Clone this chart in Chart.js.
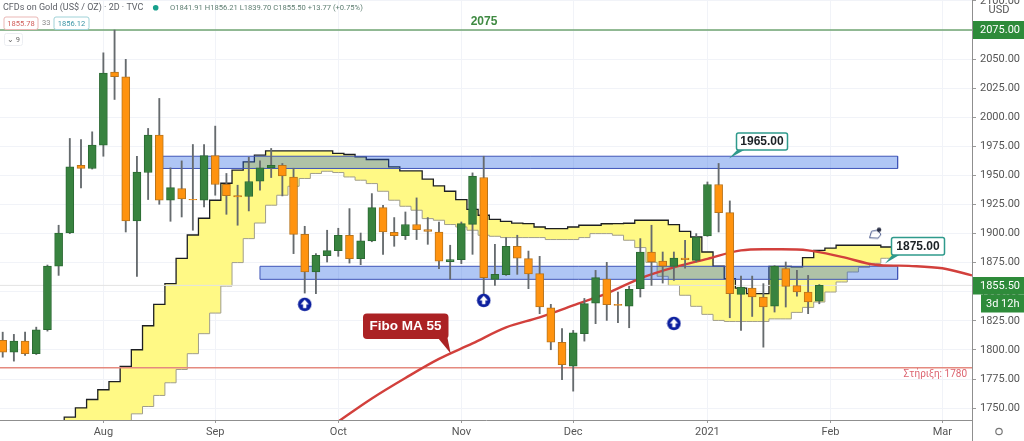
<!DOCTYPE html>
<html>
<head>
<meta charset="utf-8">
<title>CFDs on Gold</title>
<script src="https://cdn.jsdelivr.net/npm/chart.js@4"></script>
<style>
  html, body { margin: 0; padding: 0; background: #fff; overflow: hidden; }
  #wrap { position: relative; width: 1024px; height: 441px; }
</style>
</head>
<body>
<div id="wrap"><canvas id="goldChart" width="1024" height="441"></canvas></div>
<script>
// candles, one row per 2D bar
const opens = [1808.2,1798.1,1807.6,1796.8,1817.4,1872.1,1900.5,1958.8,1956,1976,2038.8,2034.8,1911,1952.5,1984.6,1928.7,1938.8,1929.5,1928.7,1967.1,1942.4,1932.7,1931.9,1945,1956.5,1958.8,1948.7,1899.4,1867,1881.1,1885.4,1898.6,1878.5,1893.7,1922.4,1901.1,1898.3,1907.8,1903.5,1901.4,1875.9,1877.6,1908,1948.2,1860.7,1864.7,1889.1,1878.5,1865.6,1836.3,1806.5,1786.1,1814,1840.3,1861,1839.2,1837.7,1852.7,1884.2,1876.4,1871.9,1879,1877,1898,1942.2,1918.1,1847.8,1853.2,1845.5,1837.7,1869.9,1855.3,1849.8,1841.91];
const highs = [1815.3,1813.4,1815.3,1819.6,1873,1907.2,1981.8,1980.9,1987.5,2055.4,2075,2049.8,1966.5,1990.4,2016.2,1956.5,1962.5,1976.6,1976.6,1992.4,1951.7,1941.6,1965.7,1962.5,1973.2,1960.3,1956.2,1906.3,1882.8,1902.9,1904.6,1921.5,1900.5,1934.4,1924.4,1913.8,1918.6,1930.7,1913.8,1910,1890,1910,1952.2,1966.5,1890.8,1896.6,1898.6,1885,1880.5,1839.2,1818.3,1816.8,1844.3,1868.4,1875.3,1849.8,1854.7,1895.7,1907.2,1884.2,1884.2,1894.3,1900,1944.4,1960.3,1928.1,1863.5,1863.5,1857,1872.5,1875.6,1868.4,1864.1,1856.21];
const lows = [1793.8,1790.4,1795.3,1796.1,1816.2,1864.1,1900,1939.3,1955.5,1966.5,2015.3,1901.4,1863.3,1929.3,1925.2,1910.6,1914.3,1902.9,1922.9,1933,1916.6,1907.2,1919.5,1937.3,1948.2,1932.4,1882.8,1848.9,1848.4,1875.6,1880.5,1874.7,1873.3,1893,1882.2,1889.1,1894.9,1894.9,1890.8,1869.9,1860.7,1874.2,1882.2,1848.4,1855.5,1864.1,1865,1852.7,1831.2,1800.2,1774.4,1764.6,1807.6,1822.6,1825.4,1823.4,1819.1,1845.5,1855.5,1857.5,1859.8,1870.2,1875.6,1897.7,1901.4,1827.7,1816.8,1828.8,1802.4,1832.6,1836.9,1846.3,1831.2,1839.7];
const closes = [1798.1,1807.6,1796.8,1817.4,1872.1,1900.5,1957.3,1956,1976,2038,2034.8,1911,1952.8,1984.6,1928.7,1939.6,1929.8,1929,1967.1,1942.2,1932.7,1931.5,1944.8,1956.5,1958.8,1949.6,1899.4,1867,1881.3,1885.4,1898.6,1878.5,1893.7,1922.4,1901.4,1898.3,1907.8,1903.5,1901.8,1876.4,1877.6,1908.6,1949.3,1862.2,1865,1889.1,1879,1865.3,1836.9,1806.7,1787.3,1814.8,1839.8,1862.2,1838.9,1838.3,1852.1,1884.2,1875.6,1872.1,1879,1877.6,1897.1,1942.2,1918.1,1848.4,1854.1,1845.5,1836.9,1871.9,1854.7,1849.8,1841.2,1855.5];

// cloud edges, one value per bar from bar 5 on
const cloudFirstBar = 5;
const cloudUpper = [1730.8,1742.2,1750.3,1757.4,1765.8,1772.7,1785.8,1800.2,1820.8,1839.2,1857,1878.8,1898.8,1913.2,1928.7,1943.3,1954.5,1961.6,1967.4,1971.1,1971.1,1971.1,1971.1,1971.1,1971.1,1968.9,1968,1965.9,1963.7,1963.7,1957.3,1953.9,1953.9,1946.8,1941,1936.4,1929.3,1920.9,1915.8,1912.3,1910.6,1909.1,1908.6,1905.7,1904.3,1904.3,1905.7,1907.2,1907.2,1908.5,1908.6,1908.9,1911.5,1911.5,1911.5,1907.8,1902,1897.1,1884.2,1872.1,1861.3,1853.2,1848.4,1848.4,1871.9,1871.9,1871.5,1879.4,1885.6,1887.6,1890,1890,1890,1890,1888.5];
const cloudLower = [1720,1720,1720,1720,1720,1720,1720,1745.1,1751.4,1760.9,1771.8,1783.2,1796.8,1814,1831.7,1854.9,1875.1,1895.7,1909.1,1924.4,1933,1940.7,1947.4,1951.7,1953.6,1952.5,1948.7,1945.9,1943,1936.4,1928.7,1923.5,1920.1,1912.9,1911.5,1907.8,1905.7,1902.9,1898.6,1897.7,1896.6,1896.6,1896.6,1896.6,1894.9,1894.9,1894.9,1896.6,1900,1900,1898.6,1894.3,1888,1875.3,1863.3,1855.5,1847,1837.5,1830.6,1825.4,1824.5,1824.5,1824.5,1824.5,1826.7,1826.7,1832.3,1836.6,1841.2,1849.8,1858.4,1867,1871,1874.5,1878.8];
const cloudLastBar = 79.6;

// Fibo MA 55
const maBars = [30,33,36,39,42,45,48,51,54,57,60,63,66,69,72,75,78,81,84,86.65];
const maValues = [1738.5,1758.3,1775.9,1792.3,1805.6,1819.4,1828,1838.3,1848.6,1861.6,1871,1878.3,1885.6,1886.5,1885.6,1880,1873.2,1872.3,1870.2,1864.1];

// blue zones
const zoneStarts = [14.3, 23];
const zoneEnds = [80, 80];
const zoneTops = [1966.5, 1871.9];
const zoneBottoms = [1956, 1860.7];

// horizontal levels
const resistanceLevel = 2075;
const supportLevel = 1784.7;
const lastPrice = 1855.5;

// up arrows and the little cursor icon
const arrowBars = [27, 43, 60];
const arrowValues = [1839.2, 1842.6, 1822.8];
const iconBar = [78.07];
const iconValue = [1900.3];

// axes
const monthBars = [9, 19, 30, 41, 51, 63, 74, 84];
const monthLabels = ['Aug', 'Sep', 'Oct', 'Nov', 'Dec', '2021', 'Feb', 'Mar'];
const priceTicks = [1750,1775,1800,1825,1850,1875,1900,1925,1950,1975,2000,2025,2050,2075,2100];
const xMin = -0.241, xMax = 86.65;
const yMin = 1739.8, yMax = 2100.8;

const GREEN = '#38833f', GREEN_EDGE = '#2b6a33';
const ORANGE = '#ff930f', ORANGE_EDGE = '#b9741c';
const WICK = '#666b6e';

function arrowSprite() {
  const c = document.createElement('canvas');
  c.width = 15; c.height = 15;
  const g = c.getContext('2d');
  g.fillStyle = '#0c1f9e';
  g.beginPath(); g.arc(7.5, 7.5, 6.8, 0, Math.PI * 2); g.fill();
  g.fillStyle = '#fff';
  g.beginPath(); g.moveTo(7.5, 2.8); g.lineTo(11.6, 7.4); g.lineTo(9.2, 7.4); g.lineTo(9.2, 11.2);
  g.lineTo(5.8, 11.2); g.lineTo(5.8, 7.4); g.lineTo(3.4, 7.4); g.closePath(); g.fill();
  return c;
}

function iconSprite() {
  const c = document.createElement('canvas');
  c.width = 16; c.height = 14;
  const g = c.getContext('2d');
  g.strokeStyle = '#4a5a8c'; g.lineWidth = 1;
  g.beginPath(); g.moveTo(1.5, 11.5); g.lineTo(3.5, 5); g.lineTo(9, 4); g.lineTo(13, 8); g.lineTo(10, 12); g.closePath(); g.stroke();
  g.fillStyle = '#2a2f45';
  g.beginPath(); g.arc(11, 3.5, 2.2, 0, Math.PI * 2); g.fill();
  return c;
}

function barPoints(values, first) {
  return values.map((v, i) => ({ x: i + first, y: v }));
}

function levelLine(value, color, width, dash, order) {
  return {
    type: 'line', data: [{ x: xMin, y: value }, { x: xMax, y: value }],
    borderColor: color, borderWidth: width, borderDash: dash, pointRadius: 0, fill: false, order: order
  };
}

const cloudUpperPts = barPoints(cloudUpper, cloudFirstBar);
const cloudLowerPts = barPoints(cloudLower, cloudFirstBar);
cloudUpperPts.push({ x: cloudLastBar, y: cloudUpper[cloudUpper.length - 1] });
cloudLowerPts.push({ x: cloudLastBar, y: cloudLower[cloudLower.length - 1] });

const datasets = [
  { type: 'line', data: cloudUpperPts, stepped: 'middle', borderColor: '#1d1f22', borderWidth: 1.3, pointRadius: 0,
    fill: { target: '+1' }, backgroundColor: '#fff985', order: 60 },
  { type: 'line', data: cloudLowerPts, stepped: 'middle', borderColor: '#a09e8c', borderWidth: 1, pointRadius: 0, fill: false, order: 59 }
];

zoneStarts.forEach((start, i) => {
  const end = zoneEnds[i], top = zoneTops[i], bottom = zoneBottoms[i];
  datasets.push(
    { type: 'line', data: [{ x: start, y: top }, { x: end, y: top }], borderWidth: 0, pointRadius: 0,
      fill: { target: '+1' }, backgroundColor: 'rgba(33,97,228,0.36)', order: 50 - i * 3 },
    { type: 'line', data: [{ x: start, y: bottom }, { x: end, y: bottom }], borderWidth: 0, pointRadius: 0, fill: false, order: 49 - i * 3 },
    { type: 'line', data: [{ x: start, y: top }, { x: end, y: top }, { x: end, y: bottom }, { x: start, y: bottom }, { x: start, y: top }],
      borderColor: '#3f55b8', borderWidth: 1, pointRadius: 0, fill: false, order: 48 - i * 3 }
  );
});

datasets.push(
  levelLine(lastPrice, '#e3e3e3', 1, [], 40),
  levelLine(resistanceLevel, '#6fa572', 1.6, [], 39),
  levelLine(supportLevel, '#e58a7f', 1.6, [], 38),
  { type: 'line', data: maBars.map((b, i) => ({ x: b, y: maValues[i] })), borderColor: '#d2403c', borderWidth: 2.4,
    pointRadius: 0, tension: 0.35, fill: false, order: 30 },
  { type: 'bar', data: opens.map((o, i) => ({ x: i, y: [lows[i], highs[i]] })), backgroundColor: WICK,
    barThickness: 1.2, borderWidth: 0, grouped: false, order: 20 },
  { type: 'bar', data: opens.map((o, i) => ({ x: i, y: [o, closes[i]] })),
    backgroundColor: opens.map((o, i) => closes[i] > o ? GREEN : ORANGE),
    borderColor: opens.map((o, i) => closes[i] > o ? GREEN_EDGE : ORANGE_EDGE),
    barThickness: 8, borderWidth: 1, borderSkipped: false, grouped: false, order: 10 },
  // sprite points, the radius only has to be above zero for the image to draw
  { type: 'line', data: arrowBars.map((b, i) => ({ x: b, y: arrowValues[i] })), showLine: false,
    pointStyle: arrowSprite(), pointRadius: 0.5, pointBorderWidth: 0, fill: false, order: 5 },
  { type: 'line', data: iconBar.map((b, i) => ({ x: b, y: iconValue[i] })), showLine: false,
    pointStyle: iconSprite(), pointRadius: 0.5, pointBorderWidth: 0, fill: false, order: 4 }
);

function roundBox(ctx, x, y, w, h, r) {
  ctx.beginPath();
  ctx.roundRect(x, y, w, h, r);
}

function callout(ctx, text, x, y, w, h, baseX, tipX, tipY) {
  ctx.fillStyle = '#2f9a8c';
  ctx.beginPath(); ctx.moveTo(baseX - 3, y + h - 1); ctx.lineTo(baseX + 5, y + h - 1); ctx.lineTo(tipX, tipY); ctx.closePath(); ctx.fill();
  ctx.fillStyle = '#fff'; ctx.strokeStyle = '#2f9a8c'; ctx.lineWidth = 1.5;
  roundBox(ctx, x, y, w, h, 2); ctx.fill(); ctx.stroke();
  ctx.fillStyle = '#1c2226'; ctx.font = 'bold 12px "Liberation Sans"';
  ctx.textAlign = 'center'; ctx.textBaseline = 'middle';
  ctx.fillText(text, x + w / 2, y + h / 2 + 0.5);
}

function priceTag(ctx, text, x, y, w, h, textX, color) {
  ctx.fillStyle = color;
  ctx.fillRect(x, y, w, h);
  ctx.fillStyle = '#fff'; ctx.font = '11px Roboto';
  ctx.textAlign = 'left'; ctx.textBaseline = 'middle';
  ctx.fillText(text, textX, y + h / 2 + 0.5);
}

function chipText(ctx, text, x, y, color) {
  ctx.fillStyle = color;
  ctx.fillText(text, x, y);
}

function chip(ctx, text, x, y, w, h, edge, color) {
  ctx.fillStyle = '#fff'; ctx.strokeStyle = edge; ctx.lineWidth = 1;
  roundBox(ctx, x + 0.5, y + 0.5, w, h, 2); ctx.fill(); ctx.stroke();
  ctx.textAlign = 'center';
  chipText(ctx, text, x + w / 2 + 0.5, y + h / 2 + 1, color);
  ctx.textAlign = 'left';
}

const overlayPlugin = {
  id: 'overlay',
  afterDraw(chart) {
    const ctx = chart.ctx, yScale = chart.scales.y, area = chart.chartArea;
    ctx.save();

    // axis line runs on past the plot down to the canvas edge
    ctx.strokeStyle = '#8f8f8f'; ctx.lineWidth = 1;
    ctx.beginPath(); ctx.moveTo(area.right + 0.5, area.bottom); ctx.lineTo(area.right + 0.5, 441); ctx.stroke();

    // level labels
    ctx.textBaseline = 'middle';
    ctx.fillStyle = '#3f8a42'; ctx.font = 'bold 12px "Liberation Sans"'; ctx.textAlign = 'center';
    ctx.fillText('2075', 484, yScale.getPixelForValue(resistanceLevel) - 8.5);
    ctx.fillStyle = '#dc6470'; ctx.font = '10px Roboto'; ctx.textAlign = 'right';
    ctx.fillText('Στήριξη: 1780', 967, yScale.getPixelForValue(supportLevel) + 6.5);

    // callouts
    callout(ctx, '1965.00', 736.5, 133, 51, 17, 741, 729, 158.5);
    callout(ctx, '1875.00', 891.5, 237.5, 53, 17.5, 896, 885, 263.5);

    ctx.fillStyle = '#ab2224';
    ctx.beginPath(); ctx.moveTo(438, 338); ctx.lineTo(447.5, 338); ctx.lineTo(450.7, 353.5); ctx.closePath(); ctx.fill();
    roundBox(ctx, 363, 313.5, 85.5, 25.5, 4); ctx.fill();
    ctx.fillStyle = '#fff'; ctx.font = 'bold 13.5px "Liberation Sans"'; ctx.textAlign = 'center';
    ctx.fillText('Fibo MA 55', 405.5, 326.5);

    // price axis tags
    const AXIS_GREEN = '#2e8b3a';
    priceTag(ctx, '2075.00', area.right + 1, 21, 51, 18, 980, AXIS_GREEN);
    priceTag(ctx, '1855.50', area.right + 1, 277, 51, 17.5, 980, AXIS_GREEN);
    priceTag(ctx, '3d 12h', 981, 294.5, 43, 18, 986, AXIS_GREEN);

    ctx.fillStyle = '#555'; ctx.font = '11px Roboto'; ctx.textAlign = 'center';
    ctx.fillText('USD', 999, 10.5);
    ctx.strokeStyle = '#777'; ctx.lineWidth = 1.2;
    ctx.beginPath(); ctx.arc(999, 431.5, 3.2, 0, Math.PI * 2); ctx.stroke();

    // header, sits on a white patch over the plot
    ctx.fillStyle = '#fff';
    ctx.fillRect(0, 0, 91, 29);
    ctx.fillStyle = '#5c5f66'; ctx.font = '9px Roboto'; ctx.textAlign = 'left';
    ctx.fillText('CFDs on Gold (US$ / OZ) · 2D · TVC', 3, 8);
    ctx.fillStyle = '#17a08c';
    ctx.beginPath(); ctx.arc(155.7, 7.7, 2.8, 0, Math.PI * 2); ctx.fill();
    ctx.fillStyle = '#5f7f72'; ctx.font = '7.6px Roboto';
    ctx.fillText('O1841.91 H1856.21 L1839.70 C1855.50 +13.77 (+0.75%)', 170, 8);

    ctx.font = '7.5px Roboto';
    chip(ctx, '1855.78', 3.5, 16.5, 34, 12.5, '#eab7b5', '#d2605c');
    chipText(ctx, '33', 42, 23.5, '#888');
    chip(ctx, '1856.12', 53.5, 16.5, 35, 12.5, '#9fd2d8', '#3b95a5');
    chip(ctx, '⌄ 9', 4, 33, 18, 12, '#eceef2', '#666');

    ctx.restore();
  }
};

new Chart(document.getElementById('goldChart'), {
  type: 'bar',
  data: { datasets: datasets },
  plugins: [overlayPlugin],
  options: {
    responsive: false,
    animation: false,
    layout: { padding: 0, autoPadding: false },
    plugins: { legend: { display: false }, tooltip: { enabled: false } },
    scales: {
      x: {
        type: 'linear', min: xMin, max: xMax, offset: false,
        afterBuildTicks(scale) { scale.ticks = monthBars.map(v => ({ value: v })); },
        afterFit(scale) { scale.height = 21; scale.paddingLeft = 0; scale.paddingRight = 0; },
        grid: { color: '#f1f3f8', tickColor: '#999', tickLength: 3, offset: false },
        border: { color: '#8f8f8f' },
        ticks: {
          autoSkip: false, maxRotation: 0, padding: 3, color: '#555', font: { family: 'Roboto', size: 11 },
          callback(value, index) { return monthLabels[index]; }
        }
      },
      y: {
        position: 'right', min: yMin, max: yMax,
        afterBuildTicks(scale) { scale.ticks = priceTicks.map(v => ({ value: v })); },
        // tick label overhang would push the plot down from the top edge
        afterFit(scale) { scale.width = 52; scale.paddingTop = 0; scale.paddingBottom = 0; },
        grid: { color: '#f1f3f8', tickColor: '#999', tickLength: 4 },
        border: { color: '#8f8f8f' },
        ticks: {
          autoSkip: false, padding: 4, color: '#555', font: { family: 'Roboto', size: 11 },
          callback(value) { return value.toFixed(2); }
        }
      }
    }
  }
});
</script>
</body>
</html>
